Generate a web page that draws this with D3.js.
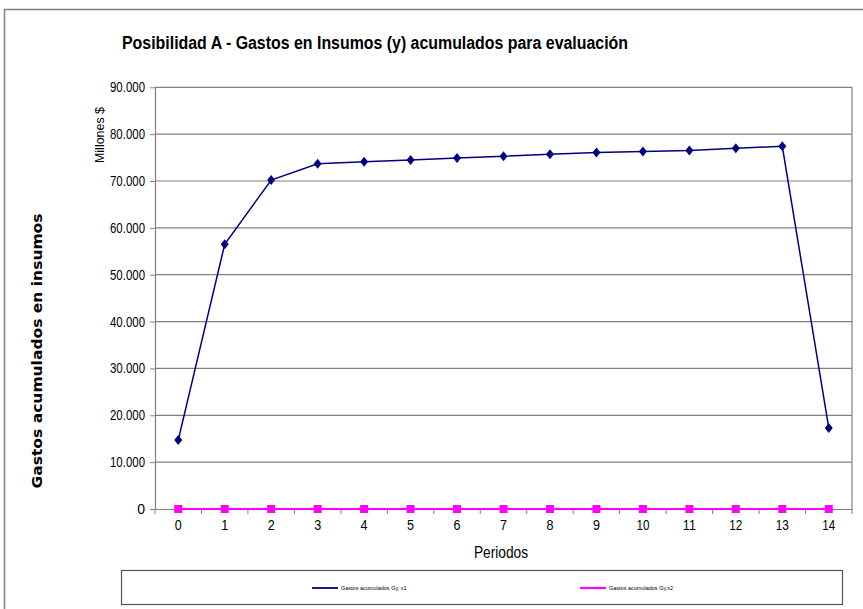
<!DOCTYPE html>
<html><head><meta charset="utf-8">
<script src="https://cdn.jsdelivr.net/npm/d3@7"></script>
<style>body{margin:0;background:#fff}svg{display:block}</style>
</head><body><svg id="c" width="863" height="609"></svg>
<script>
const periods = [0,1,2,3,4,5,6,7,8,9,10,11,12,13,14];
const gastosX1 = [14700,56500,70200,73700,74100,74500,74900,75300,75700,76100,76300,76500,77000,77400,17300];
const gastosX2 = [0,0,0,0,0,0,0,0,0,0,0,0,0,0,0];
const yTicks = [0,10000,20000,30000,40000,50000,60000,70000,80000,90000];
const seriesNames = ["Gastos acumulados Gy, x1","Gastos acumulados Gy,x2"];

const svg = d3.select("#c");
const sans = "Arial,'Liberation Sans',sans-serif";
const L=155, R=852, T=87.3, B=509;

svg.append("rect").attr("x",4.5).attr("y",9.5).attr("width",880).attr("height",700)
  .attr("fill","none").attr("stroke","#7f7f7f").attr("stroke-width",1.5);

const x = d3.scaleBand().domain(periods).range([L,R]);
const y = d3.scaleLinear().domain([0,90000]).range([B,T]);
const fmt = v => v===0 ? "0" : d3.format(",")(v).replace(/,/g,".");

svg.append("g").selectAll("line").data(yTicks.filter(d=>d>0)).join("line")
  .attr("x1",L).attr("x2",R).attr("y1",d=>y(d)).attr("y2",d=>y(d))
  .attr("stroke","#808080").attr("stroke-width",1.2);
svg.append("line").attr("x1",R).attr("x2",R).attr("y1",T).attr("y2",B).attr("stroke","#808080").attr("stroke-width",1.2);

const ya = svg.append("g").attr("transform",`translate(${L},0)`)
  .call(d3.axisLeft(y).tickValues(yTicks).tickFormat(fmt).tickSize(5).tickSizeOuter(0));
ya.select(".domain").attr("stroke","#808080").attr("stroke-width",1.2);
ya.selectAll(".tick line").attr("stroke","#808080");
ya.selectAll("text").attr("font-family",sans).attr("font-size",14).attr("fill","#000").attr("x",-10)
  .each(function(d){ if(d>0) d3.select(this).attr("textLength",35).attr("lengthAdjust","spacingAndGlyphs"); });

const xa = svg.append("g").attr("transform",`translate(0,${B})`)
  .call(d3.axisBottom(x).tickSize(0).tickSizeOuter(0));
xa.select(".domain").attr("stroke","#808080").attr("stroke-width",1.2);
xa.selectAll("text").attr("font-family",sans).attr("font-size",14).attr("fill","#000").attr("dy","1.3em")
  .each(function(d){ d3.select(this).attr("textLength", d>9 ? 13 : 7).attr("lengthAdjust","spacingAndGlyphs"); });
svg.append("g").selectAll("line").data(periods.concat([15])).join("line")
  .attr("x1",(d,i)=>L+i*x.step()).attr("x2",(d,i)=>L+i*x.step())
  .attr("y1",B).attr("y2",B+5).attr("stroke","#808080");

const cx = d => x(d)+x.bandwidth()/2;
const line = d3.line().x((d,i)=>cx(periods[i])).y(d=>y(d));

svg.append("path").datum(gastosX2).attr("d",line).attr("fill","none").attr("stroke","#ff00ff").attr("stroke-width",2.2);
svg.append("g").selectAll("rect").data(gastosX2).join("rect")
  .attr("x",(d,i)=>cx(periods[i])-4).attr("y",d=>y(d)-4).attr("width",8).attr("height",8).attr("fill","#ff00ff");

svg.append("path").datum(gastosX1).attr("d",line).attr("fill","none").attr("stroke","#000080").attr("stroke-width",1.5);
svg.append("g").selectAll("path").data(gastosX1).join("path")
  .attr("transform",(d,i)=>`translate(${cx(periods[i])},${y(d)})`)
  .attr("d","M0,-5L4,0L0,5L-4,0Z").attr("fill","#000080");

svg.append("text").attr("x",122).attr("y",49).attr("font-family",sans).attr("font-weight","bold")
  .attr("font-size",18).attr("fill","#000").attr("textLength",506).attr("lengthAdjust","spacingAndGlyphs")
  .text("Posibilidad A - Gastos en Insumos (y) acumulados para evaluación");
svg.append("text").attr("transform","translate(104,135) rotate(-90)").attr("text-anchor","middle")
  .attr("font-family",sans).attr("font-size",13).attr("textLength",56).attr("lengthAdjust","spacingAndGlyphs").text("Millones $");
svg.append("text").attr("transform","translate(42,351) rotate(-90)").attr("text-anchor","middle")
  .attr("font-family","'DejaVu Sans',Verdana,sans-serif").attr("font-weight","bold").attr("font-size",14)
  .attr("textLength",275).attr("lengthAdjust","spacingAndGlyphs").text("Gastos acumulados en insumos");
svg.append("text").attr("x",501).attr("y",558).attr("text-anchor","middle")
  .attr("font-family",sans).attr("font-size",16).attr("textLength",54).attr("lengthAdjust","spacingAndGlyphs").text("Periodos");

svg.append("rect").attr("x",121.5).attr("y",570.5).attr("width",721).attr("height",34)
  .attr("fill","none").attr("stroke","#555").attr("stroke-width",1.2);
const leg = [{c:"#000080",x:312,w:1.8},{c:"#ff00ff",x:580,w:2.2}];
leg.forEach((l,i)=>{
  svg.append("line").attr("x1",l.x).attr("x2",l.x+26).attr("y1",588).attr("y2",588).attr("stroke",l.c).attr("stroke-width",l.w);
  svg.append("text").attr("x",l.x+29).attr("y",590).attr("font-family",sans).attr("font-size",5.5).text(seriesNames[i]);
});
</script></body></html>
